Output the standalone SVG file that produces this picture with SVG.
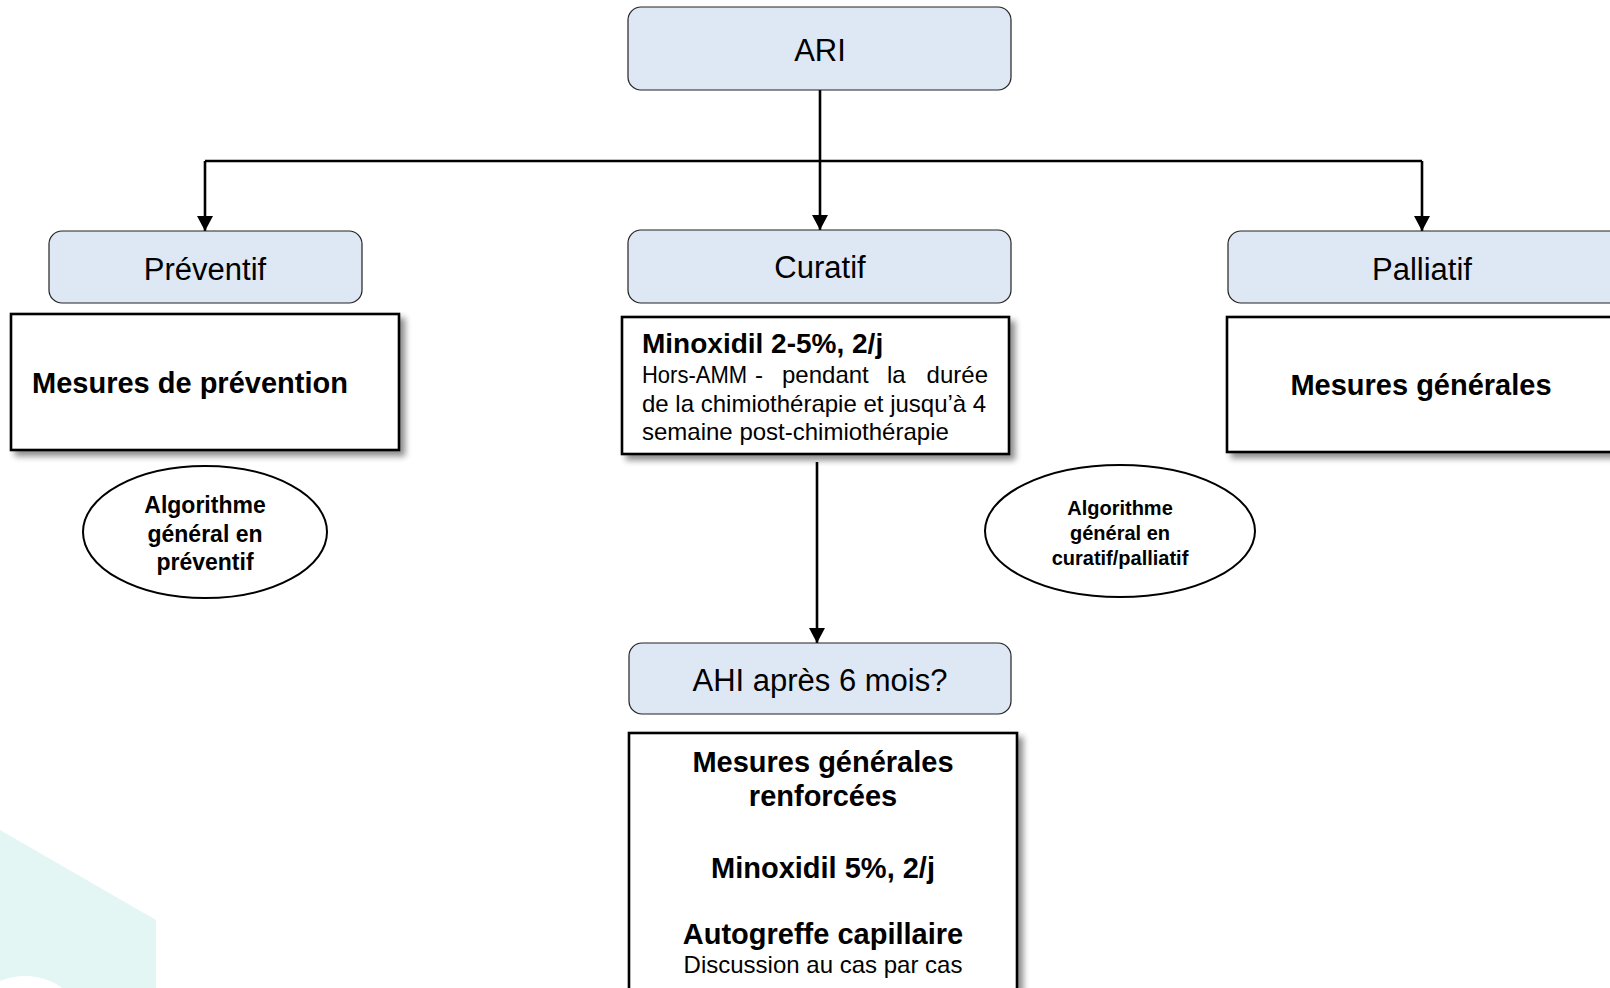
<svg xmlns="http://www.w3.org/2000/svg" width="1610" height="988" viewBox="0 0 1610 988">
<defs>
<style>
.rbox{fill:#DEE8F4;stroke:#222;stroke-width:1.2}
.box{fill:#fff;stroke:#000;stroke-width:2.6}
.ell{fill:#fff;stroke:#000;stroke-width:2}
.t{font-family:"Liberation Sans",Arial,sans-serif;fill:#000}
.h{font-size:31px;text-anchor:middle}
.b29{font-size:29px;font-weight:bold}
.b28{font-size:28px;font-weight:bold}
.r24{font-size:24px}
.e23{font-size:23px;font-weight:bold;text-anchor:middle}
.e20{font-size:20px;font-weight:bold;text-anchor:middle}
.c{text-anchor:middle}
.conn{fill:none;stroke:#000;stroke-width:2.6}
</style>
<filter id="sh" x="-10%" y="-10%" width="130%" height="130%">
<feGaussianBlur in="SourceAlpha" stdDeviation="3"/>
<feOffset dx="5" dy="5" result="o"/>
<feComponentTransfer><feFuncA type="linear" slope="0.45"/></feComponentTransfer>
<feMerge><feMergeNode/><feMergeNode in="SourceGraphic"/></feMerge>
</filter>
<marker id="arr" markerUnits="userSpaceOnUse" markerWidth="16" markerHeight="16" viewBox="0 0 16 16" refX="15" refY="8" orient="auto">
<path d="M0,0 L15,8 L0,16 Z" fill="#000"/>
</marker>
</defs>
<rect width="1610" height="988" fill="#fff"/>
<g id="background">
<polygon points="0,830 156,920 156,988 0,988" fill="#E3F6F4"/>
<circle cx="25" cy="1040" r="64" fill="#fff"/>
</g>
<g id="connectors">
<path class="conn" d="M820,90 V230" marker-end="url(#arr)"/>
<path class="conn" d="M205,161 H1422"/>
<path class="conn" d="M205,161 V231" marker-end="url(#arr)"/>
<path class="conn" d="M1422,161 V231" marker-end="url(#arr)"/>
<path class="conn" d="M817,462 V643" marker-end="url(#arr)"/>
</g>
<g id="ari">
<rect class="rbox" x="628" y="7" width="383" height="83" rx="13"/>
<text class="t h" x="820" y="61">ARI</text>
</g>
<g id="preventif">
<rect class="rbox" x="49" y="231" width="313" height="72" rx="13"/>
<text class="t h" x="205" y="280">Préventif</text>
</g>
<g id="curatif">
<rect class="rbox" x="628" y="230" width="383" height="73" rx="13"/>
<text class="t h" x="820" y="278">Curatif</text>
</g>
<g id="palliatif">
<rect class="rbox" x="1228" y="231" width="400" height="72" rx="13"/>
<text class="t h" x="1422" y="280">Palliatif</text>
</g>
<g id="mesures-prevention">
<rect class="box" x="11" y="314" width="388" height="136" filter="url(#sh)"/>
<text class="t b29" x="32" y="393">Mesures de prévention</text>
</g>
<g id="minoxidil">
<rect class="box" x="622" y="317" width="387" height="137" filter="url(#sh)"/>
<text class="t b28" x="642" y="353">Minoxidil 2-5%, 2/j</text>
<text class="t r24" y="383"><tspan x="642" textLength="105" lengthAdjust="spacingAndGlyphs">Hors-AMM</tspan><tspan x="755">-</tspan><tspan x="782">pendant</tspan><tspan x="887">la</tspan><tspan x="988" text-anchor="end">durée</tspan></text>
<text class="t r24" x="642" y="412">de la chimiothérapie et jusqu’à 4</text>
<text class="t r24" x="642" y="440">semaine post-chimiothérapie</text>
</g>
<g id="mesures-generales">
<rect class="box" x="1227" y="317" width="400" height="135" filter="url(#sh)"/>
<text class="t b29 c" x="1421" y="395">Mesures générales</text>
</g>
<g id="algo-preventif">
<ellipse class="ell" cx="205" cy="532" rx="122" ry="66"/>
<text class="t e23" x="205" y="513">Algorithme</text>
<text class="t e23" x="205" y="542">général en</text>
<text class="t e23" x="205" y="570">préventif</text>
</g>
<g id="algo-curatif">
<ellipse class="ell" cx="1120" cy="531" rx="135" ry="66"/>
<text class="t e20" x="1120" y="515">Algorithme</text>
<text class="t e20" x="1120" y="540">général en</text>
<text class="t e20" x="1120" y="565">curatif/palliatif</text>
</g>
<g id="ahi">
<rect class="rbox" x="629" y="643" width="382" height="71" rx="13"/>
<text class="t h" x="820" y="691">AHI après 6 mois?</text>
</g>
<g id="mesures-renforcees">
<rect class="box" x="629" y="733" width="388" height="300" filter="url(#sh)"/>
<text class="t b29 c" x="823" y="772">Mesures générales</text>
<text class="t b29 c" x="823" y="806">renforcées</text>
<text class="t b29 c" x="823" y="878">Minoxidil 5%, 2/j</text>
<text class="t b29 c" x="823" y="944">Autogreffe capillaire</text>
<text class="t r24 c" x="823" y="973">Discussion au cas par cas</text>
</g>
</svg>
